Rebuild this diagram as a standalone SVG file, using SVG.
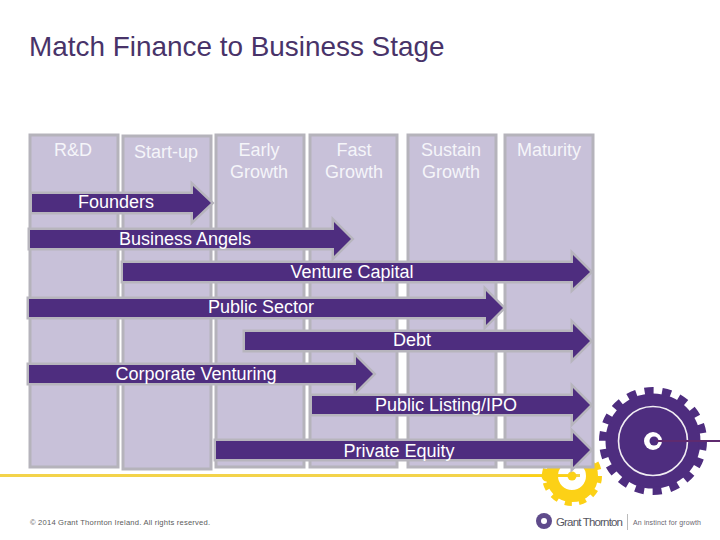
<svg xmlns="http://www.w3.org/2000/svg" width="720" height="540" viewBox="0 0 720 540">
<style>
text{font-family:"Liberation Sans",Arial,sans-serif}
.col{fill:#c8c1d9;stroke:#b5b3bb;stroke-width:3}
.ct{fill:#f5f5f9;font-size:18px;text-anchor:middle}
.ar{fill:#4e2d7f;stroke:#b7b5bd;stroke-width:5;paint-order:stroke;stroke-linejoin:miter}
.at{fill:#fff;font-size:18px;text-anchor:middle}
</style>
<rect width="720" height="540" fill="#fff"/>
<text x="29" y="56" font-size="27.9" fill="#483369" id="title">Match Finance to Business Stage</text>
<g id="footer-art">
<rect x="0" y="474" width="580" height="3" fill="#f3d34a"/>
<g fill="none" stroke="#fcd116">
<circle cx="572" cy="476" r="20" stroke-width="12"/>
<circle cx="572" cy="476" r="27" stroke-width="6" stroke-dasharray="7 7.14"/>
</g>
<circle cx="572" cy="476" r="4.5" fill="#fcd116"/>
<circle cx="547" cy="476" r="5.5" fill="#fcd116"/>
<rect x="520" y="474.5" width="52" height="2.5" fill="#fcd116"/>
</g>
<g id="col-rd"><rect class="col" x="30" y="135" width="88" height="332"/><text class="ct" x="73" y="156">R&amp;D</text></g>
<g id="col-startup"><rect class="col" x="123" y="136" width="88" height="333"/><text class="ct" x="166" y="158">Start-up</text></g>
<g id="col-early"><rect class="col" x="216" y="135" width="88" height="332"/><text class="ct" x="259" y="156">Early</text><text class="ct" x="259" y="178">Growth</text></g>
<g id="col-fast"><rect class="col" x="310" y="135" width="87" height="332"/><text class="ct" x="354" y="156">Fast</text><text class="ct" x="354" y="178">Growth</text></g>
<g id="col-sustain"><rect class="col" x="408" y="135" width="88" height="332"/><text class="ct" x="451" y="156">Sustain</text><text class="ct" x="451" y="178">Growth</text></g>
<g id="col-maturity"><rect class="col" x="505" y="135" width="88" height="332"/><text class="ct" x="549" y="156">Maturity</text></g>
<g id="connectors">
<path class="ar" d="M32 194H193V186L211 203L193 220V212H32Z"/>
<path class="ar" d="M30 230H334V222L351 239L334 256V248H30Z"/>
<path class="ar" d="M123 263H573V255L590 272L573 288V281H123Z"/>
<path class="ar" d="M29 299H486V291L503 308L486 325V317H29Z"/>
<path class="ar" d="M245 332H573V324L590 341L573 358V350H245Z"/>
<path class="ar" d="M29 365H356V357L373 374L356 391V383H29Z"/>
<path class="ar" d="M312 396H573V388L590 405L573 422V414H312Z"/>
<path class="ar" d="M216 441H573V433L590 450L573 467V459H216Z"/>
</g>
<g id="arrow-labels">
<text class="at" x="116" y="208">Founders</text>
<text class="at" x="185" y="245">Business Angels</text>
<text class="at" x="352" y="278">Venture Capital</text>
<text class="at" x="261" y="313">Public Sector</text>
<text class="at" x="412" y="346">Debt</text>
<text class="at" x="196" y="380">Corporate Venturing</text>
<text class="at" x="446" y="411">Public Listing/IPO</text>
<text class="at" x="399" y="457">Private Equity</text>
</g>
<g id="gear">
<circle cx="653" cy="441" r="47.5" fill="#4e2d7f"/>
<circle cx="653" cy="441" r="50" fill="none" stroke="#4e2d7f" stroke-width="8" stroke-dasharray="9 8.45"/>
<circle cx="653" cy="441" r="34.5" fill="none" stroke="#f1edf3" stroke-width="1.6"/>
<circle cx="653" cy="441" r="9" fill="#fff"/>
<circle cx="654" cy="441" r="4.5" fill="#4e2d7f"/>
<rect x="656" y="440" width="64" height="2" fill="#5f2a6f"/>
</g>
<text id="copyright" x="30" y="525" font-size="7.6" fill="#5b5b5b" textLength="180">© 2014 Grant Thornton Ireland. All rights reserved.</text>
<g id="logo">
<circle cx="544" cy="521" r="8" fill="#5f4b8b"/>
<circle cx="544" cy="521" r="3" fill="#fff"/>
<text x="556" y="526" font-size="11.5" fill="#55555f" textLength="67">Grant Thornton</text>
<rect x="627" y="514" width="1" height="16" fill="#bbb"/>
<text x="633" y="525" font-size="7" fill="#6a6670" textLength="68">An instinct for growth</text>
</g>
</svg>
